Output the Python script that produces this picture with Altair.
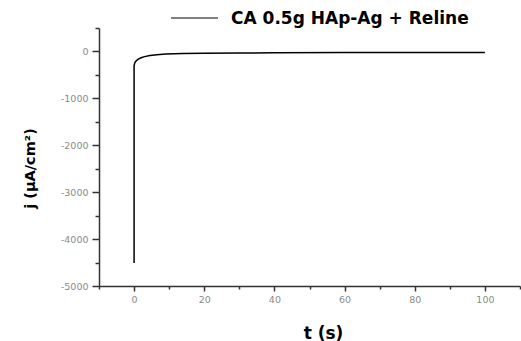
import altair as alt
import pandas as pd

# Chronoamperometry data
t_s = [0, 0, 0.2, 0.6, 1.2, 2.0, 3.0, 4.5, 6.5, 9.0, 14, 20, 30, 40, 60, 80, 100]
j_uA = [-4510, -300, -240, -200, -165, -135, -110, -88, -70, -55, -46, -40, -33, -28, -24, -22, -20]

series_name = "CA 0.5g HAp-Ag + Reline"
x_ticks = [-10, 0, 10, 20, 30, 40, 50, 60, 70, 80, 90, 100, 110]
y_ticks = [-5000, -4500, -4000, -3500, -3000, -2500, -2000, -1500, -1000, -500, 0, 500]

df = pd.DataFrame({"i": list(range(len(t_s))), "t": t_s, "j": j_uA})

AX = dict(
    domainColor="#333333",
    domainWidth=1.5,
    tickColor="#333333",
    tickWidth=1.5,
    labelColor="#8a8a8a",
    labelFont="DejaVu Sans",
    labelFontSize=9.5,
    labelOverlap=False,
    grid=False,
    titleColor="#000000",
    titleFontWeight="bold",
)

x_axis = alt.Axis(
    values=x_ticks,
    tickSize={"condition": {"test": "datum.value % 20 === 0", "value": 5}, "value": 3},
    labelExpr="datum.value % 20 === 0 ? '' + datum.value : ''",
    labelPadding=3,
    title="t (s)",
    titleFont="DejaVu Sans",
    titleFontSize=17,
    titleX=224,
    titleY=47,
    titleBaseline="middle",
    titleAlign="center",
    **AX,
)

y_axis = alt.Axis(
    values=y_ticks,
    tickSize={"condition": {"test": "datum.value % 1000 === 0", "value": 7}, "value": 4},
    labelExpr="datum.value % 1000 === 0 ? '' + datum.value : ''",
    labelPadding=4,
    title="j (μA/cm²)",
    titleFont="DejaVu Sans",
    titleFontSize=14.5,
    titleX=-69,
    titleY=140,
    titleAngle=270,
    titleBaseline="middle",
    titleAlign="center",
    **AX,
)

line = alt.Chart(df).mark_line(color="black", strokeWidth=1.5).encode(
    x=alt.X("t:Q", scale=alt.Scale(domain=[-10, 110], nice=False, zero=False), axis=x_axis),
    y=alt.Y("j:Q", scale=alt.Scale(domain=[-5000, 500], nice=False, zero=False), axis=y_axis),
    order="i:Q",
)

legend_rule = alt.Chart(pd.DataFrame({"s": [series_name]})).mark_rule(
    color="black", strokeWidth=1
).encode(x=alt.value(72), x2=alt.value(119), y=alt.value(-10))

legend_text = alt.Chart(pd.DataFrame({"s": [series_name]})).mark_text(
    align="left", baseline="middle", font="DejaVu Sans", fontWeight="bold",
    fontSize=17, color="black"
).encode(text="s:N", x=alt.value(132), y=alt.value(-9))

chart = alt.layer(line, legend_rule, legend_text).properties(
    width=421,
    height=258,
    autosize=alt.AutoSizeParams(type="none"),
    padding={"left": 99, "top": 28, "right": 1, "bottom": 55},
    background="white",
).configure_view(stroke=None)

chart.save("out.html", embed_options={"renderer": "svg", "actions": False})
